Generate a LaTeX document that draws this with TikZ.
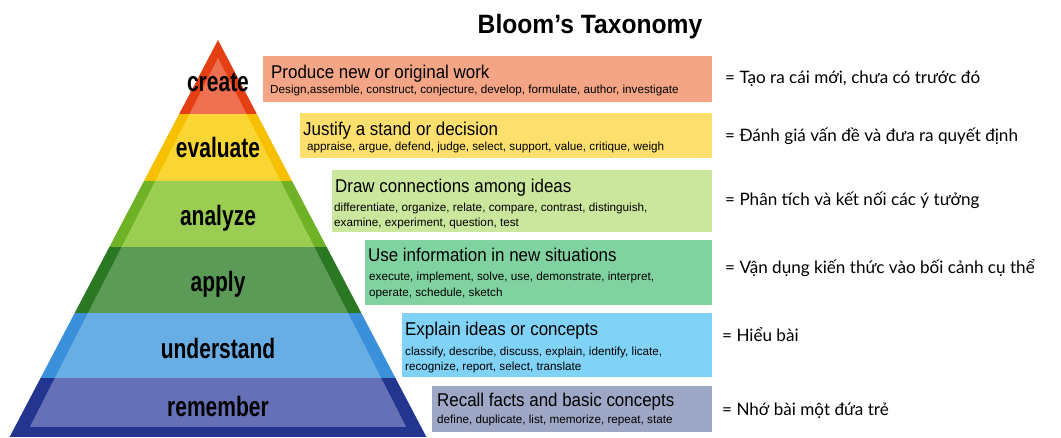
\documentclass[tikz,border=0pt]{standalone}
\usepackage{fontspec}
\setmainfont{Liberation Sans}
\newfontfamily\pyrfont[FakeStretch=0.75]{Liberation Sans}
\newfontfamily\boxfont[FakeStretch=0.915]{Liberation Sans}
\newfontfamily\verbfont{Liberation Sans}
\newfontfamily\headfont[FakeStretch=0.93]{Liberation Sans}
\newfontfamily\vnfont{Lato}

% pyramid colours: outer rim (dark) and inner face (light)
\definecolor{createD}{HTML}{E43F12}
\definecolor{createL}{HTML}{EE7050}
\definecolor{evalD}{HTML}{F6C000}
\definecolor{evalL}{HTML}{F9D634}
\definecolor{anaD}{HTML}{6FB226}
\definecolor{anaL}{HTML}{9BCD52}
\definecolor{applyD}{HTML}{2B7823}
\definecolor{applyL}{HTML}{5C9A58}
\definecolor{undD}{HTML}{3A90D9}
\definecolor{undL}{HTML}{68AEE4}
\definecolor{remD}{HTML}{22358F}
\definecolor{remL}{HTML}{6670B6}
% description boxes
\definecolor{boxCreate}{HTML}{F3A585}
\definecolor{boxEval}{HTML}{FDDF6E}
\definecolor{boxAna}{HTML}{CBE79E}
\definecolor{boxApply}{HTML}{80D3A0}
\definecolor{boxUnd}{HTML}{80D2F6}
\definecolor{boxRem}{HTML}{9EA7C5}

\tikzset{
  pyrlabel/.style={font=\pyrfont\bfseries\fontsize{28}{28}\selectfont, anchor=base, inner sep=0pt},
  levelbox/.style={anchor=north west, inner sep=0pt, draw=none},
  boxtitle/.style={font=\boxfont\fontsize{18.5}{18.5}\selectfont, anchor=base west, inner sep=0pt},
  boxverbs/.style={font=\verbfont\fontsize{11.7}{11.7}\selectfont, anchor=base west, inner sep=0pt},
  vnnote/.style={font=\vnfont\fontsize{17.1}{17.1}\selectfont, anchor=base west, inner sep=0pt},
  headline/.style={font=\headfont\bfseries\fontsize{26.5}{26.5}\selectfont, anchor=base, inner sep=0pt}
}

\begin{document}
\begin{tikzpicture}[x=1pt,y=-1pt]
\useasboundingbox (0,0) rectangle (1061,437);
\fill[white] (0,0) rectangle (1061,437);

% ---- pyramid: outer rim ----
\begin{scope}
  \clip (218,40) -- (9.6,437) -- (426.4,437) -- cycle;
  \fill[createD] (0,0)   rectangle (450,114);
  \fill[evalD]   (0,114) rectangle (450,181);
  \fill[anaD]    (0,181) rectangle (450,247);
  \fill[applyD]  (0,247) rectangle (450,313);
  \fill[undD]    (0,313) rectangle (450,378);
  \fill[remD]    (0,378) rectangle (450,437);
\end{scope}
% ---- pyramid: inner face ----
\begin{scope}
  \clip (218,58) -- (29.8,427) -- (406.2,427) -- cycle;
  \fill[createL] (0,0)   rectangle (450,114);
  \fill[evalL]   (0,114) rectangle (450,181);
  \fill[anaL]    (0,181) rectangle (450,247);
  \fill[applyL]  (0,247) rectangle (450,313);
  \fill[undL]    (0,313) rectangle (450,378);
  \fill[remL]    (0,378) rectangle (450,427);
\end{scope}

\node[pyrlabel] (lcreate) at (218,91.5)  {create};
\node[pyrlabel] (leval)   at (218,157.5) {evaluate};
\node[pyrlabel] (lana)    at (218,225)   {analyze};
\node[pyrlabel] (lapply)  at (218,291.5) {apply};
\node[pyrlabel] (lund)    at (218,358)   {understand};
\node[pyrlabel] (lrem)    at (218,416.5) {remember};

% ---- heading ----
\node[headline] (head) at (590,33.5) {Bloom’s Taxonomy};

% ---- description boxes ----
\node[levelbox, fill=boxCreate, minimum width=449pt, minimum height=46pt] (b1) at (263,56) {};
\node[levelbox, fill=boxEval,   minimum width=412pt, minimum height=45pt] (b2) at (300,113) {};
\node[levelbox, fill=boxAna,    minimum width=380pt, minimum height=62pt] (b3) at (332,170) {};
\node[levelbox, fill=boxApply,  minimum width=347pt, minimum height=65pt] (b4) at (365,240) {};
\node[levelbox, fill=boxUnd,    minimum width=310pt, minimum height=64pt] (b5) at (402,313) {};
\node[levelbox, fill=boxRem,    minimum width=280pt, minimum height=46pt] (b6) at (432,386) {};

\node[boxtitle] (t1) at (271,78) {Produce new or original work};
\node[boxverbs] (v1) at (270,93) {Design,assemble, construct, conjecture, develop, formulate, author, investigate};

\node[boxtitle] (t2) at (303,135) {Justify a stand or decision};
\node[boxverbs] (v2) at (307,150) {appraise, argue, defend, judge, select, support, value, critique, weigh};

\node[boxtitle] (t3) at (335,192) {Draw connections among ideas};
\node[boxverbs] (v3a) at (334,211.5) {differentiate, organize, relate, compare, contrast, distinguish,};
\node[boxverbs] (v3b) at (334,226.5) {examine, experiment, question, test};

\node[boxtitle] (t4) at (368,261) {Use information in new situations};
\node[boxverbs] (v4a) at (369,280) {execute, implement, solve, use, demonstrate, interpret,};
\node[boxverbs] (v4b) at (369,296.5) {operate, schedule, sketch};

\node[boxtitle] (t5) at (405,335) {Explain ideas or concepts};
\node[boxverbs] (v5a) at (405,355) {classify, describe, discuss, explain, identify, licate,};
\node[boxverbs] (v5b) at (405,370) {recognize, report, select, translate};

\node[boxtitle] (t6) at (437,406) {Recall facts and basic concepts};
\node[boxverbs] (v6) at (437,423) {define, duplicate, list, memorize, repeat, state};

% ---- Vietnamese notes ----
\node[vnnote] (n1) at (725,83.5)  {= Tạo ra cái mới, chưa có trước đó};
\node[vnnote] (n2) at (725,141.5) {= Đánh giá vấn đề và đưa ra quyết định};
\node[vnnote] (n3) at (725,205)   {= Phân tích và kết nối các ý tưởng};
\node[vnnote] (n4) at (725,273)   {= Vận dụng kiến thức vào bối cảnh cụ thể};
\node[vnnote] (n5) at (722,341.5) {= Hiểu bài};
\node[vnnote] (n6) at (722,415)   {= Nhớ bài một đứa trẻ};
\end{tikzpicture}
\end{document}
